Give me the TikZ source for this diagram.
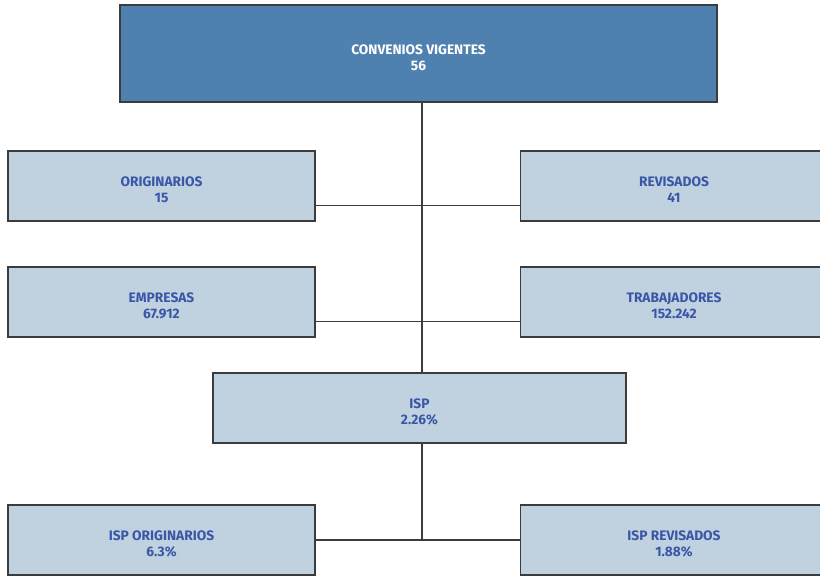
\documentclass[tikz,border=0pt]{standalone}
\usepackage{fontspec}
\setmainfont{Fira Sans}
\usepackage{tikz}
\usetikzlibrary{positioning, calc}

\definecolor{topblue}{HTML}{4F81B0}
\definecolor{paleblue}{HTML}{C0D2E0}
\definecolor{labelblue}{HTML}{3A56A6}
\definecolor{edgegray}{HTML}{3C3C3C}

% two-line box text, pushed a little below the middle
\newcommand{\boxlines}[2]{\rule{0pt}{13pt}#1\\#2}

\tikzset{
  box/.style={draw=edgegray, line width=1.1pt, fill=paleblue, text=labelblue,
    align=center, inner sep=0pt, minimum width=230.25pt, minimum height=52.5pt,
    font=\bfseries\fontsize{10.3}{12}\selectfont},
  headbox/.style={box, fill=topblue, text=white, minimum width=447.75pt,
    minimum height=72.75pt},
  link/.style={draw=edgegray, line width=1pt}
}

\begin{document}
\begin{tikzpicture}[x=0.75pt, y=-0.75pt]
  \useasboundingbox (0,0) rectangle (820,577);

  % header
  \node[headbox] (conv) at (418.5,53.5) {\boxlines{CONVENIOS VIGENTES}{56}};

  % first two rows
  \node[box] (orig) at (161.5,186) {\boxlines{ORIGINARIOS}{15}};
  \node[box] (rev)  at (674,186)   {\boxlines{REVISADOS}{41}};
  \node[box] (emp)  at (161.5,302) {\boxlines{EMPRESAS}{67.912}};
  \node[box] (trab) at (674,302)   {\boxlines{TRABAJADORES}{152.242}};

  % ISP
  \node[box, minimum width=309.75pt] (isp) at (419.5,408) {\boxlines{ISP}{2.26\%}};
  \node[box] (isporig) at (161.5,540) {\boxlines{ISP ORIGINARIOS}{6.3\%}};
  \node[box] (isprev)  at (674,540)   {\boxlines{ISP REVISADOS}{1.88\%}};

  % connectors
  \coordinate (spine) at (422,0);
  \draw[link] (conv.south -| spine) -- (isp.north -| spine);
  \draw[link] ([yshift=12pt]orig.south east) -- ([yshift=12pt]rev.south west);
  \draw[link] ([yshift=12pt]emp.south east) -- ([yshift=12pt]trab.south west);
  \draw[link] (isp.south -| spine) -- (isporig.east -| spine);
  \draw[link] (isporig.east) -- (isprev.west);
\end{tikzpicture}
\end{document}
